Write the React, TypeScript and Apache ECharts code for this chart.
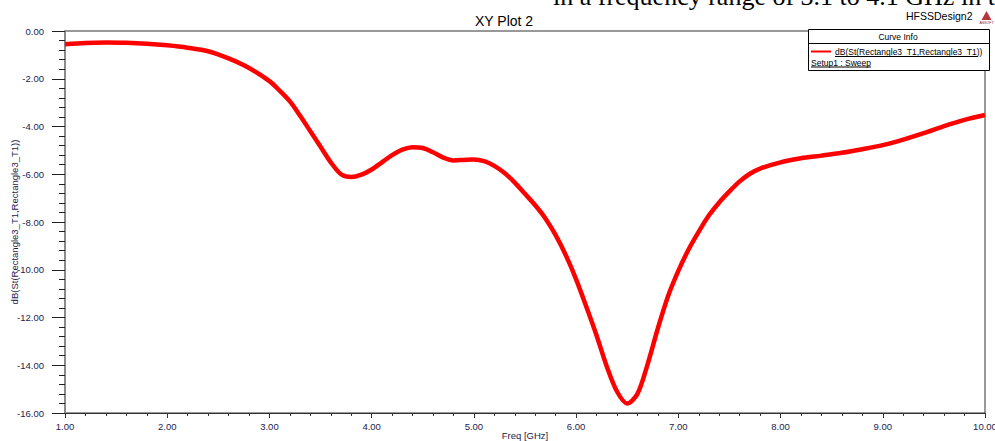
import React, { useEffect, useRef } from "react";
import * as echarts from "echarts";

const freq = [
  1.0, 1.2, 1.4, 1.6, 1.8, 2.0, 2.2, 2.4, 2.6, 2.8, 3.0, 3.1, 3.2, 3.3, 3.4, 3.5,
  3.6, 3.7, 3.8, 3.9, 4.0, 4.1, 4.2, 4.3, 4.4, 4.5, 4.6, 4.7, 4.8, 4.9, 5.0, 5.1,
  5.2, 5.3, 5.4, 5.5, 5.6, 5.7, 5.8, 5.9, 6.0, 6.1, 6.2, 6.3, 6.4, 6.5, 6.6, 6.7,
  6.8, 6.9, 7.0, 7.1, 7.2, 7.3, 7.4, 7.5, 7.6, 7.7, 7.8, 8.0, 8.2, 8.4, 8.6, 8.8,
  9.0, 9.2, 9.4, 9.6, 9.8, 10.0,
];
const s21dB = [
  -0.55, -0.5, -0.48, -0.49, -0.53, -0.6, -0.7, -0.85, -1.15, -1.55, -2.1, -2.5,
  -2.95, -3.55, -4.2, -4.85, -5.5, -6.0, -6.12, -6.02, -5.8, -5.5, -5.2, -4.97,
  -4.87, -4.9, -5.08, -5.3, -5.42, -5.4, -5.38, -5.45, -5.65, -5.95, -6.35, -6.82,
  -7.3, -7.85, -8.55, -9.4, -10.4, -11.55, -12.75, -14.05, -15.1, -15.6, -15.2,
  -13.95, -12.45, -11.1, -10.05, -9.15, -8.4, -7.72, -7.18, -6.72, -6.3, -5.98,
  -5.76, -5.5, -5.33, -5.22, -5.1, -4.95, -4.78, -4.55, -4.28, -3.98, -3.72, -3.52,
];

const chartTitle = "XY Plot 2";
const designName = "HFSSDesign2";
const xAxisName = "Freq [GHz]";
const yAxisName = "dB(St(Rectangle3_T1,Rectangle3_T1))";
const seriesName = "dB(St(Rectangle3_T1,Rectangle3_T1))";
const setupName = "Setup1 : Sweep";
const legendTitle = "Curve Info";
const pageText = "in a frequency range of 3.1 to 4.1 GHz in t";

const FONT = "Arial, 'Liberation Sans', sans-serif";
const LABEL_COLOR = "#1c1c4c";

export default function App() {
  const ref = useRef<HTMLDivElement>(null);
  useEffect(() => {
    if (!ref.current) return;
    const chart = echarts.init(ref.current, undefined, { renderer: "svg" });
    const data = freq.map((f, i) => [f, s21dB[i]]);
    chart.setOption({
      animation: false,
      backgroundColor: "#ffffff",
      title: {
        text: chartTitle,
        left: 470,
        top: 9,
        textStyle: { fontFamily: FONT, fontSize: 14, fontWeight: "normal", color: "#000" },
      },
      grid: {
        left: 65,
        right: 10,
        top: 31,
        bottom: 28,
        containLabel: false,
        outerBoundsMode: "none",
        show: true,
        borderColor: "#333",
        borderWidth: 1,
        backgroundColor: "transparent",
      },
      xAxis: {
        type: "value",
        min: 1,
        max: 10,
        interval: 1,
        name: xAxisName,
        nameLocation: "middle",
        nameGap: 17,
        nameMoveOverlap: false,
        nameTextStyle: { fontFamily: FONT, fontSize: 9.5, color: LABEL_COLOR },
        axisLine: { show: true, onZero: false, lineStyle: { color: "#333", width: 1 } },
        axisTick: { show: true, length: 5, lineStyle: { color: "#333" } },
        minorTick: { show: true, splitNumber: 5, length: 3, lineStyle: { color: "#333" } },
        splitLine: { show: false },
        axisLabel: {
          margin: 8,
          fontFamily: FONT,
          fontSize: 9.5,
          color: LABEL_COLOR,
          formatter: (v: number) => v.toFixed(2),
        },
      },
      yAxis: {
        type: "value",
        min: -16,
        max: 0,
        interval: 2,
        name: yAxisName,
        nameLocation: "middle",
        nameGap: 46,
        nameRotate: 90,
        nameMoveOverlap: false,
        nameTextStyle: { fontFamily: FONT, fontSize: 9.5, color: LABEL_COLOR },
        axisLine: { show: true, onZero: false, lineStyle: { color: "#8a8a8a", width: 2 } },
        axisTick: { show: true, length: 13, lineStyle: { color: "#222" } },
        minorTick: { show: true, splitNumber: 5, length: 6, lineStyle: { color: "#222" } },
        splitLine: { show: false },
        axisLabel: {
          margin: 21,
          fontFamily: FONT,
          fontSize: 9.5,
          color: LABEL_COLOR,
          formatter: (v: number) => v.toFixed(2),
        },
      },
      series: [
        {
          type: "line",
          name: seriesName,
          data,
          showSymbol: false,
          smooth: 0.3,
          lineStyle: { color: "#ff0000", width: 4.5 },
          z: 3,
        },
      ],
      graphic: [
        {
          type: "text",
          x: 553,
          y: -4,
          style: {
            text: pageText,
            fontFamily: "'Liberation Serif', 'Times New Roman', serif",
            fontSize: 26,
            fill: "#000",
            verticalAlign: "middle",
            align: "left",
          },
          z: 200,
        },
        {
          type: "text",
          x: 906,
          y: 16,
          style: {
            text: designName,
            fontFamily: FONT,
            fontSize: 10.5,
            fill: "#000",
            verticalAlign: "middle",
            align: "left",
          },
        },
        {
          type: "polygon",
          shape: { points: [[986.5, 11], [981.5, 20], [991.5, 20]] },
          style: { fill: "#b8343c" },
        },
        {
          type: "text",
          x: 986.5,
          y: 22.5,
          style: {
            text: "ANSOFT",
            fontFamily: FONT,
            fontSize: 3.5,
            fill: "#8a2030",
            verticalAlign: "middle",
            align: "center",
          },
        },
        {
          type: "group",
          z: 100,
          children: [
            {
              type: "rect",
              shape: { x: 808.5, y: 29.5, width: 181, height: 41 },
              style: { fill: "#fff", stroke: "#000", lineWidth: 1 },
            },
            {
              type: "line",
              shape: { x1: 808.5, y1: 43.5, x2: 989.5, y2: 43.5 },
              style: { stroke: "#000", lineWidth: 1 },
            },
            {
              type: "text",
              x: 898,
              y: 36.5,
              style: {
                text: legendTitle,
                fontFamily: FONT,
                fontSize: 8.5,
                fill: "#000",
                align: "center",
                verticalAlign: "middle",
              },
            },
            {
              type: "line",
              shape: { x1: 811, y1: 51.5, x2: 831, y2: 51.5 },
              style: { stroke: "#ff0000", lineWidth: 2 },
            },
            {
              type: "text",
              x: 835,
              y: 52,
              style: {
                text: seriesName,
                fontFamily: FONT,
                fontSize: 8.5,
                fill: "#000",
                align: "left",
                verticalAlign: "middle",
              },
            },
            {
              type: "line",
              shape: { x1: 835, y1: 56.5, x2: 978, y2: 56.5 },
              style: { stroke: "#000", lineWidth: 1 },
            },
            {
              type: "text",
              x: 811,
              y: 62.5,
              style: {
                text: setupName,
                fontFamily: FONT,
                fontSize: 8.5,
                fill: "#000",
                align: "left",
                verticalAlign: "middle",
              },
            },
            {
              type: "line",
              shape: { x1: 811, y1: 67, x2: 871, y2: 67 },
              style: { stroke: "#000", lineWidth: 1 },
            },
          ],
        },
      ],
    });
    return () => chart.dispose();
  }, []);
  return (
    <div
      ref={ref}
      style={{ position: "absolute", left: 0, top: 0, width: 995, height: 441, background: "#fff" }}
    />
  );
}
